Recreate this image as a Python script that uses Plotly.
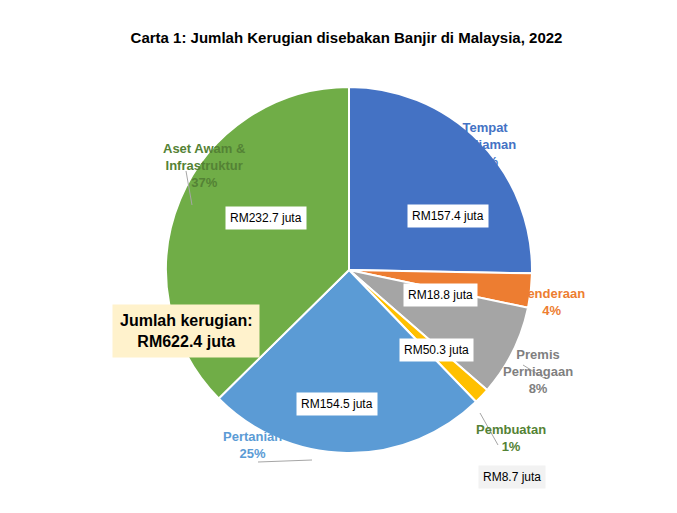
import plotly.graph_objects as go

W, H = 677, 513

sectors = ["Tempat Kediaman", "Kenderaan", "Premis Perniagaan", "Pembuatan", "Pertanian", "Aset Awam & Infrastruktur"]
values = [157.4, 18.8, 50.3, 8.7, 154.5, 232.7]
percents = ["25%", "4%", "8%", "1%", "25%", "37%"]
colors = ["#4472C4", "#ED7D31", "#A5A5A5", "#FFC000", "#5B9BD5", "#70AD47"]
value_labels = ["RM157.4 juta", "RM18.8 juta", "RM50.3 juta", "RM8.7 juta", "RM154.5 juta", "RM232.7 juta"]


def px(x, y):
    return x / W, 1 - y / H


# rendered pie comes out ~8px right and ~8px low, so compensate
cx, cy, r = 341, 262, 183
x0, y0 = px(cx - r, cy + r)
x1, y1 = px(cx + r, cy - r)

fig = go.Figure(go.Pie(
    labels=sectors, values=values, sort=False, direction="clockwise", rotation=0,
    marker=dict(colors=colors, line=dict(color="white", width=2)),
    textinfo="none", hoverinfo="label+value", showlegend=False,
    domain=dict(x=[x0, x1], y=[y0, y1]),
))

font = "Liberation Sans"
anns = []
# value boxes
box_pos = [(440, 208), (470, 287), (466, 354), (538, 481), (329, 408), (258, 210)]
for (bx, by), t in zip(box_pos, value_labels):
    ax, ay = px(bx, by)
    anns.append(dict(x=ax, y=ay, xref="paper", yref="paper", text=t, showarrow=False,
                     bgcolor="#F2F2F2" if t == "RM8.7 juta" else "white", borderpad=4,
                     font=dict(family=font, size=12, color="black")))
# category labels
cat_pos = [(510, 110, "Tempat<br>Kediaman<br>25%", "#4472C4"),
           (579, 294, "Kenderaan<br>4%", "#ED7D31"),
           (567, 390, "Premis<br>Perniagaan<br>8%", "#7F7F7F"),
           (540, 448, "Pembuatan<br>1%", "#548235"),
           (213, 455, "Pertanian<br>25%", "#5B9BD5"),
           (153, 131, "Aset Awam &<br>Infrastruktur<br>37%", "#548235")]
for lx, ly, t, c in cat_pos:
    ax, ay = px(lx, ly)
    anns.append(dict(x=ax, y=ay, xref="paper", yref="paper", text="<b>" + t + "</b>", showarrow=False,
                     font=dict(family=font, size=13, color=c), align="center"))
# total box
tx, ty = px(104, 323)
anns.append(dict(x=tx, y=ty, xref="paper", yref="paper",
                 text="<b>Jumlah kerugian:<br>RM622.4 juta</b>", showarrow=False,
                 bgcolor="#FFF2CC", borderpad=7, align="center",
                 font=dict(family=font, size=16, color="black")))

shapes = []
for (ax, ay), (bx, by) in [((178, 163), (184, 197)), ((250, 454), (304, 452)),
                           ((490, 437), (472, 405)), ((536, 370), (515, 357))]:
    p, q = px(ax, ay), px(bx, by)
    shapes.append(dict(type="line", xref="paper", yref="paper", x0=p[0], y0=p[1], x1=q[0], y1=q[1],
                       line=dict(color="#A6A6A6", width=1)))

fig.update_layout(
    width=W, height=H, margin=dict(l=0, r=0, t=0, b=0),
    paper_bgcolor="white", plot_bgcolor="white",
    title=dict(text="<b>Carta 1: Jumlah Kerugian disebakan Banjir di Malaysia, 2022</b>",
               x=0.5, y=1 - 30 / H, xanchor="center", yanchor="middle",
               font=dict(family=font, size=15, color="black")),
    annotations=anns, shapes=shapes,
)

fig.write_html("out.html")
